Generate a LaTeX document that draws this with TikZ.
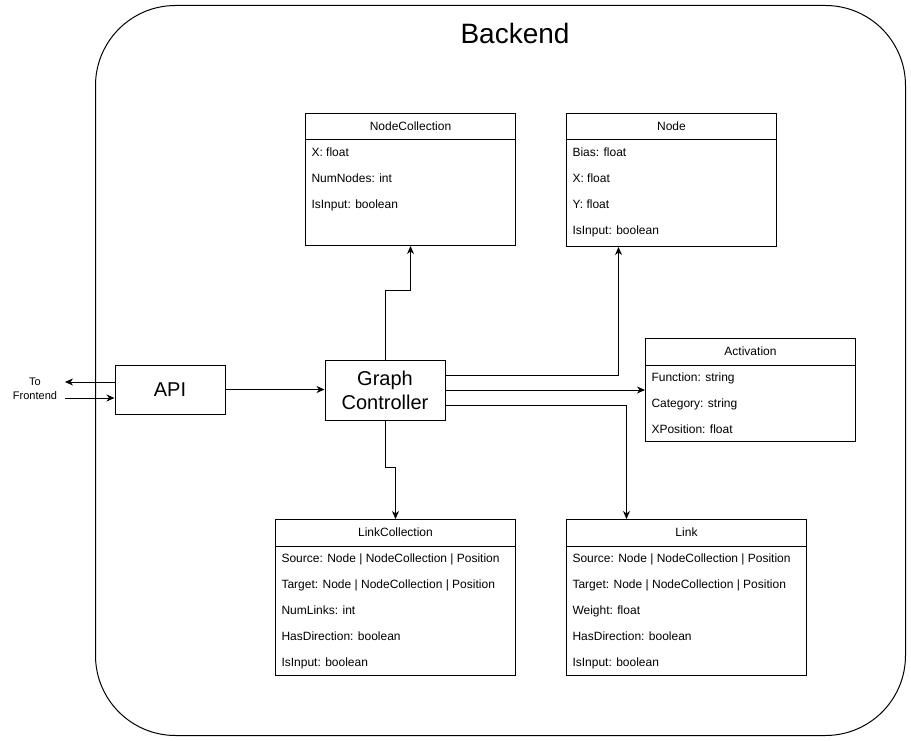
\documentclass[tikz,border=0pt]{standalone}
\usepackage{fontspec}
\setmainfont{Liberation Sans}
\usetikzlibrary{positioning, arrows.meta, calc}

\begin{document}
\begin{tikzpicture}[x=1pt, y=-1pt, line width=1pt, >={Stealth[length=8pt, width=7pt, inset=2.5pt]},
  box/.style={draw, anchor=north west, inner sep=0pt},
  title/.style={font=\fontsize{12}{14}\selectfont, inner sep=0pt},
  field/.style={font=\fontsize{12}{14}\selectfont, anchor=west, inner sep=0pt, text height=8.6pt, text depth=2.5pt},
  block/.style={draw, align=center, font=\fontsize{20}{24}\selectfont},
  wire/.style={->}]
  \useasboundingbox (0,0) rectangle (911,741);

  \node[draw, rounded corners=80pt, minimum width=810pt, minimum height=730pt, anchor=north west] (backend) at (95,5) {};
  \node[font=\fontsize{28}{34}\selectfont, inner sep=0pt] (backend-t) at (515,33) {Backend};

  \node[block, minimum width=110pt, minimum height=49pt] (api) at (170,389.5) {API};
  \node[block, minimum width=120pt, minimum height=60pt] (gc) at (385,390) {Graph\\Controller};
  \node[font=\fontsize{11}{14}\selectfont, align=center, inner sep=0pt] (tofront) at (35,389) {To\\Frontend};

  \node[box, minimum width=210pt, minimum height=132pt] (nc) at (305,113) {};
  \node[box, minimum width=210pt, minimum height=133pt, right=50pt of nc.north east, anchor=north west] (nd) {};
  \node[box, minimum width=210pt, minimum height=103pt] (act) at (645,338) {};
  \node[box, minimum width=240pt, minimum height=156pt] (lc) at (275,519) {};
  \node[box, minimum width=240pt, minimum height=156pt, right=50pt of lc.north east, anchor=north west] (lk) {};

  % headers
  \foreach \n/\t in {nc/NodeCollection, nd/Node, act/Activation, lc/LinkCollection, lk/Link} {
    \draw ([yshift=-27pt]\n.north west) -- ([yshift=-27pt]\n.north east);
    \node[title] (\n-t) at ([yshift=-13.5pt]\n.north) {\t};
  }

  % fields
  \foreach \t [count=\i] in {X: float, NumNodes: int, IsInput: boolean}
    \node[field] (nc-\i) at ([xshift=6pt, yshift={-14-26*\i}]nc.north west) {\t};
  \foreach \t [count=\i] in {Bias: float, X: float, Y: float, IsInput: boolean}
    \node[field] (nd-\i) at ([xshift=6pt, yshift={-14-26*\i}]nd.north west) {\t};
  \foreach \t [count=\i] in {Function: string, Category: string, XPosition: float}
    \node[field] (act-\i) at ([xshift=6pt, yshift={-14-26*\i}]act.north west) {\t};
  \foreach \t [count=\i] in {Source: Node | NodeCollection | Position, Target: Node | NodeCollection | Position, NumLinks: int, HasDirection: boolean, IsInput: boolean}
    \node[field] (lc-\i) at ([xshift=6pt, yshift={-14-26*\i}]lc.north west) {\t};
  \foreach \t [count=\i] in {Source: Node | NodeCollection | Position, Target: Node | NodeCollection | Position, Weight: float, HasDirection: boolean, IsInput: boolean}
    \node[field] (lk-\i) at ([xshift=6pt, yshift={-14-26*\i}]lk.north west) {\t};

  % connectors
  \coordinate (fe-out) at (65,382);
  \coordinate (fe-in) at (65,398);
  \draw[wire] (api.west |- fe-out) -- (fe-out);
  \draw[wire] (fe-in) -- (api.west |- fe-in);
  \draw[wire] (api.east) -- (api.east -| gc.west);
  \draw[wire] (gc.north) -- ++(0,-69) -| (nc.south);
  \draw[wire] ([yshift=15pt]gc.east) -| ([xshift=-53pt]nd.south);
  \draw[wire] (gc.east) -- (gc.east -| act.west);
  \draw[wire] ([yshift=-15pt]gc.east) -| ([xshift=-60pt]lk.north);
  \draw[wire] (gc.south) -- ++(0,47) -| (lc.north);
\end{tikzpicture}
\end{document}
